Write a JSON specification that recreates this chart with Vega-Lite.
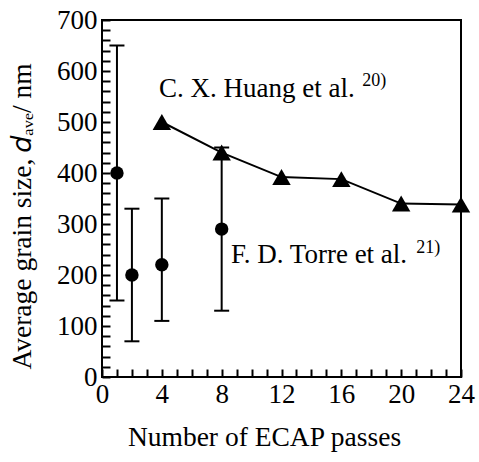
{
  "$schema": "https://vega.github.io/schema/vega-lite/v6.json",
  "width": 359,
  "height": 357,
  "autosize": "none",
  "padding": {"left": 102, "top": 20, "right": 18, "bottom": 85},
  "background": "white",
  "config": {
    "view": {"stroke": "black", "strokeWidth": 2},
    "font": "Liberation Serif",
    "axis": {
      "grid": false, "domain": false, "offset": -8, "zindex": 1,
      "ticks": true, "tickSize": 8, "tickWidth": 2, "tickColor": "black",
      "labelOverlap": false, "labelFlush": false, "labelBound": false,
      "labelFont": "Liberation Serif", "labelFontSize": 27, "labelColor": "black",
      "titleFont": "Liberation Serif", "titleFontSize": 27.5, "titleFontWeight": "normal", "titleColor": "black"
    }
  },
  "datasets": {
    "torre": [
      {"passes": 1, "size": 400},
      {"passes": 2, "size": 200},
      {"passes": 4, "size": 220},
      {"passes": 8, "size": 290}
    ],
    "bars": [
      {"passes": 1, "size": 150, "top": 650},
      {"passes": 2, "size": 70, "top": 330},
      {"passes": 4, "size": 110, "top": 350},
      {"passes": 8, "size": 130, "top": 450}
    ],
    "caps": [
      {"passes": 1, "size": 150}, {"passes": 1, "size": 650},
      {"passes": 2, "size": 70}, {"passes": 2, "size": 330},
      {"passes": 4, "size": 110}, {"passes": 4, "size": 350},
      {"passes": 8, "size": 130}, {"passes": 8, "size": 450}
    ],
    "huang": [
      {"passes": 4, "size": 500},
      {"passes": 8, "size": 440},
      {"passes": 12, "size": 392},
      {"passes": 16, "size": 388},
      {"passes": 20, "size": 340},
      {"passes": 24, "size": 338}
    ],
    "labels": [
      {"passes": 3.81, "size": 549, "text": "C. X. Huang et al."},
      {"passes": 8.62, "size": 223, "text": "F. D. Torre et al."}
    ],
    "sups": [
      {"passes": 17.4, "size": 570, "text": "20)"},
      {"passes": 21.0, "size": 244, "text": "21)"}
    ]
  },
  "encoding": {
    "x": {"field": "passes", "type": "quantitative",
      "scale": {"domain": [0, 24], "nice": false},
      "axis": {"title": "Number of ECAP passes",
        "values": [0,1,2,3,4,5,6,7,8,9,10,11,12,13,14,15,16,17,18,19,20,21,22,23,24],
        "labelExpr": "datum.value % 4 === 0 ? datum.label : ' '",
        "grid": false, "domain": false, "offset": -8, "zindex": 1,
        "ticks": true, "tickSize": 8, "tickWidth": 2, "tickColor": "black",
        "labelOverlap": false, "labelFlush": false, "labelBound": false,
        "labelPadding": 4, "titlePadding": 16, "titleX": 162}},
    "y": {"field": "size", "type": "quantitative",
      "scale": {"domain": [0, 700], "nice": false},
      "axis": {"title": "Average grain size, 𝑑ₐᵥₑ/ nm",
        "values": [0,20,40,60,80,100,120,140,160,180,200,220,240,260,280,300,320,340,360,380,400,420,440,460,480,500,520,540,560,580,600,620,640,660,680,700],
        "labelExpr": "datum.value % 100 === 0 ? datum.label : ' '",
        "grid": false, "domain": false, "offset": -8, "zindex": 1,
        "ticks": true, "tickSize": 8, "tickWidth": 2, "tickColor": "black",
        "labelOverlap": false, "labelFlush": false, "labelBound": false,
        "labelPadding": 5, "titlePadding": 20, "titleY": 196}}
  },
  "layer": [
    {
      "data": {"name": "bars"},
      "mark": {"type": "rule", "color": "black", "strokeWidth": 2},
      "encoding": {"y2": {"field": "top"}}
    },
    {
      "data": {"name": "caps"},
      "mark": {"type": "tick", "orient": "horizontal", "size": 15, "thickness": 2, "color": "black", "opacity": 1}
    },
    {
      "data": {"name": "torre"},
      "mark": {"type": "point", "shape": "circle", "filled": true, "color": "black", "size": 180, "opacity": 1}
    },
    {
      "data": {"name": "huang"},
      "mark": {"type": "line", "color": "black", "strokeWidth": 2}
    },
    {
      "data": {"name": "huang"},
      "mark": {"type": "point", "shape": "triangle-up", "filled": true, "color": "black", "size": 340, "opacity": 1}
    },
    {
      "data": {"name": "labels"},
      "mark": {"type": "text", "align": "left", "baseline": "alphabetic", "fontSize": 27, "font": "Liberation Serif", "color": "black"},
      "encoding": {"text": {"field": "text"}}
    },
    {
      "data": {"name": "sups"},
      "mark": {"type": "text", "align": "left", "baseline": "alphabetic", "fontSize": 18, "font": "Liberation Serif", "color": "black"},
      "encoding": {"text": {"field": "text"}}
    }
  ]
}
